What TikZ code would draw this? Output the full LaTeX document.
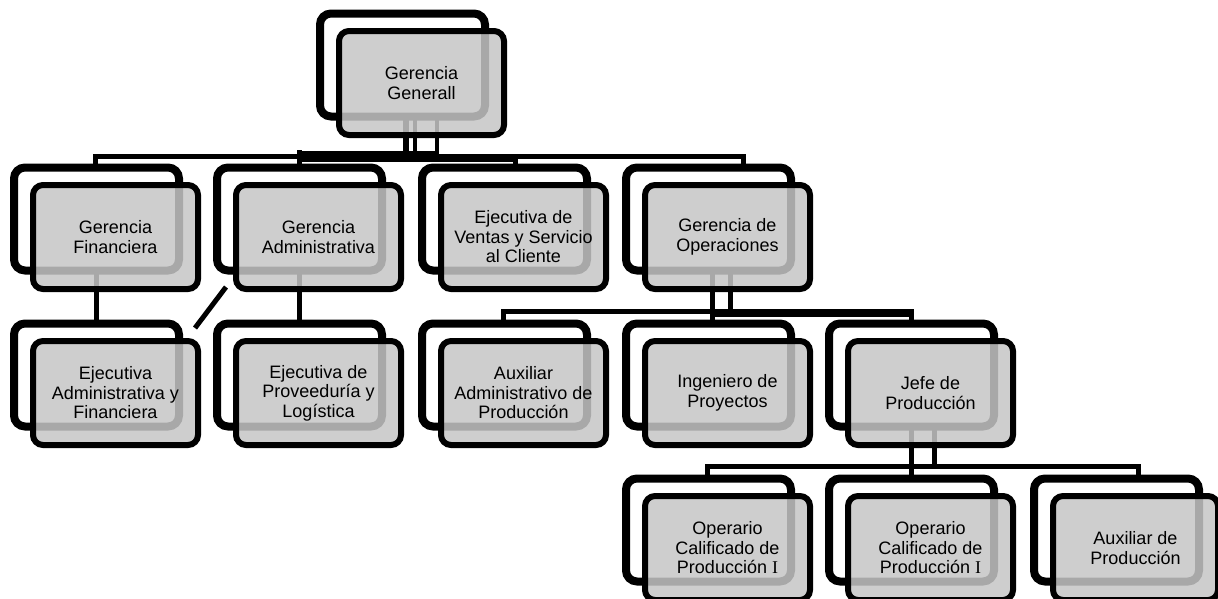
\documentclass[tikz,border=0pt]{standalone}
\usepackage{fontspec}
\setmainfont{Liberation Sans}
\newfontfamily\serifI{Liberation Serif}
\usetikzlibrary{calc}
\definecolor{frontgray}{RGB}{198,198,198}
\pgfdeclarelayer{bg}
\pgfdeclarelayer{paper}
\pgfsetlayers{paper,bg,main}
\newcommand\orgunit[4]{%
  \node[backbox] (#1B) at (#2,#3) {};
  \node[frontbox] (#1) at (#2+19,#3+18) {#4};
}
\begin{document}
\begin{tikzpicture}[x=1pt,y=-1pt,
  backbox/.style={draw=black, line width=8pt, fill=white, rounded corners=11pt,
    minimum width=165pt, minimum height=103pt, inner sep=0pt},
  frontbox/.style={draw=black, line width=6pt, fill=frontgray, fill opacity=0.85,
    draw opacity=1, text opacity=1, rounded corners=10pt,
    minimum width=165pt, minimum height=104pt, inner sep=0pt, align=center,
    font=\fontsize{18}{19.5}\selectfont, text=black},
  conn/.style={draw=black, line width=5pt, line cap=rect},
  diag/.style={draw=black, line width=5pt, line cap=butt},
]
\useasboundingbox (0,0) rectangle (1218,598);
\begin{pgfonlayer}{paper}
\fill[white] (0,0) rectangle (1218,598);
\end{pgfonlayer}

% level 1
\orgunit{gg}{402.5}{65}{Gerencia\\Generall}
% level 2
\orgunit{gf}{96.5}{219}{Gerencia\\Financiera}
\orgunit{ga}{299.5}{219}{Gerencia\\Administrativa}
\orgunit{ev}{504.5}{219}{Ejecutiva de\\Ventas y Servicio\\al Cliente}
\orgunit{go}{708.5}{219}{Gerencia de\\Operaciones}
% level 3
\orgunit{ea}{96.5}{375}{Ejecutiva\\Administrativa y\\Financiera}
\orgunit{ep}{299.5}{375}{Ejecutiva de\\Proveeduría y\\Logística}
\orgunit{aa}{504.5}{375}{Auxiliar\\Administrativo de\\Producción}
\orgunit{ip}{708.5}{375}{Ingeniero de\\Proyectos}
\orgunit{jp}{911.5}{375}{Jefe de\\Producción}
% level 4
\orgunit{oa}{708.5}{530}{Operario\\Calificado de\\Producción {\serifI I}}
\orgunit{ob}{911.5}{530}{Operario\\Calificado de\\Producción {\serifI I}}
\orgunit{ap}{1116.5}{530}{Auxiliar de\\Producción}

% connector anchor points
\coordinate (busA) at (95,156);
\coordinate (busAe) at (743,156);
\coordinate (busAlo) at (300,160);
\coordinate (busAhi) at (300,152.5);
\coordinate (g1) at ([xshift=3.5pt]ggB.center);
\coordinate (g2) at ([xshift=12.5pt]ggB.center);
\coordinate (g3) at ([xshift=34.5pt]ggB.center);
\coordinate (evT) at ([xshift=10.5pt]evB.center);
\coordinate (o1) at ([xshift=3.5pt]goB.center);
\coordinate (o2) at ([xshift=21.5pt]goB.center);
\coordinate (ipT) at ([xshift=3.5pt]ipB.center);
\coordinate (busB) at (503,311);
\coordinate (busBlo) at (712,315);
\coordinate (j2) at ([xshift=22.5pt]jpB.center);
\coordinate (busC) at (707,466);
\coordinate (busCe) at (1138,466);
\coordinate (d1) at (226,287);
\coordinate (d2) at (195,328);

\begin{pgfonlayer}{bg}
% from Gerencia General
\draw[conn] (busA) -- (busAe);
\draw[conn,line width=4pt] (busAlo) -- (busAlo -| evT);
\draw[conn,line width=3pt] (busAhi) -- (busAhi -| g3);
\draw[conn,line width=5.5pt] (g1) -- (g1 |- busA);
\draw[conn,line width=4pt] (g2) -- (g2 |- busA);
\draw[conn,line width=4.5pt] (g3) -- (g3 |- busA);
\draw[conn] (busA) -- (busA |- gfB.center);
\draw[conn] (busAhi -| gaB.center) -- (gaB.center);
\draw[conn] (busA -| evT) -- (evT);
\draw[conn] (busAe) -- (busAe |- goB.center);
% level 2 to 3
\draw[conn] (gfB.center) -- (eaB.center);
\draw[conn] (gaB.center) -- (epB.center);
% from Gerencia de Operaciones
\draw[conn] (busB) -- (busB -| jpB.center);
\draw[conn,line width=4pt] (busBlo) -- (busBlo -| jpB.center);
\draw[conn] (o1) -- (ipT);
\draw[conn] (o2) -- (o2 |- busB);
\draw[conn] (busB) -- (busB |- aaB.center);
\draw[conn] (busB -| jpB.center) -- (jpB.center);
% from Jefe de Produccion
\draw[conn] (busC) -- (busCe);
\draw[conn] (jpB.center) -- (obB.center);
\draw[conn] (j2) -- (j2 |- busC);
\draw[conn] (busC) -- (busC |- oaB.center);
\draw[conn] (busCe) -- (busCe |- apB.center);
\end{pgfonlayer}
\draw[diag] (d1) -- (d2);
\end{tikzpicture}
\end{document}
